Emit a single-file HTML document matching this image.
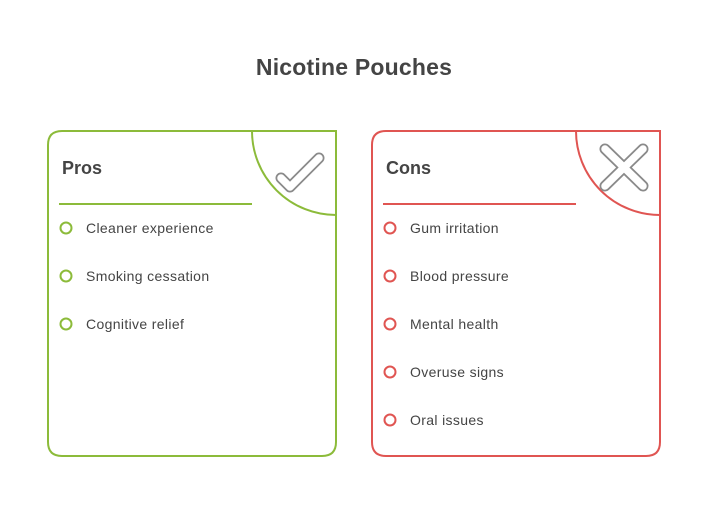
<!DOCTYPE html>
<html><head><meta charset="utf-8"><style>
body{margin:0;background:#fff;}
svg{display:block;font-family:"Liberation Sans",sans-serif;}
</style></head><body>
<svg width="708" height="528" viewBox="0 0 708 528">
<text x="354" y="75" text-anchor="middle" font-size="23" font-weight="bold" fill="#444" letter-spacing="0.2">Nicotine Pouches</text>
<!-- Pros -->
<path d="M62 131 H336 V442 Q336 456 322 456 H62 Q48 456 48 442 V145 Q48 131 62 131 Z" fill="none" stroke="#8cbb3a" stroke-width="2"/>
<path d="M252 131 A84 84 0 0 0 336 215" fill="none" stroke="#8cbb3a" stroke-width="2"/>
<polyline points="281,178 290,187 319,158" fill="none" stroke="#8a8a8a" stroke-width="11" stroke-linecap="round" stroke-linejoin="round"/>
<polyline points="281,178 290,187 319,158" fill="none" stroke="#fff" stroke-width="7.5" stroke-linecap="round" stroke-linejoin="round"/>
<text x="62" y="174" font-size="18" font-weight="bold" fill="#444">Pros</text>
<line x1="59" y1="204" x2="252" y2="204" stroke="#8cbb3a" stroke-width="2"/>
<g fill="none" stroke="#8cbb3a" stroke-width="2"><circle cx="66" cy="228" r="5.5"/><circle cx="66" cy="276" r="5.5"/><circle cx="66" cy="324" r="5.5"/></g>
<g font-size="14" fill="#444" letter-spacing="0.35"><text x="86" y="233">Cleaner experience</text><text x="86" y="281">Smoking cessation</text><text x="86" y="329">Cognitive relief</text></g>
<!-- Cons -->
<path d="M386 131 H660 V442 Q660 456 646 456 H386 Q372 456 372 442 V145 Q372 131 386 131 Z" fill="none" stroke="#e05552" stroke-width="2"/>
<path d="M576 131 A84 84 0 0 0 660 215" fill="none" stroke="#e05552" stroke-width="2"/>
<g stroke-linecap="round"><line x1="605" y1="149" x2="643" y2="186" stroke="#8a8a8a" stroke-width="11"/><line x1="643" y1="149" x2="605" y2="186" stroke="#8a8a8a" stroke-width="11"/><line x1="605" y1="149" x2="643" y2="186" stroke="#fff" stroke-width="7.5"/><line x1="643" y1="149" x2="605" y2="186" stroke="#fff" stroke-width="7.5"/></g>
<text x="386" y="174" font-size="18" font-weight="bold" fill="#444">Cons</text>
<line x1="383" y1="204" x2="576" y2="204" stroke="#e05552" stroke-width="2"/>
<g fill="none" stroke="#e05552" stroke-width="2"><circle cx="390" cy="228" r="5.5"/><circle cx="390" cy="276" r="5.5"/><circle cx="390" cy="324" r="5.5"/><circle cx="390" cy="372" r="5.5"/><circle cx="390" cy="420" r="5.5"/></g>
<g font-size="14" fill="#444" letter-spacing="0.35"><text x="410" y="233">Gum irritation</text><text x="410" y="281">Blood pressure</text><text x="410" y="329">Mental health</text><text x="410" y="377">Overuse signs</text><text x="410" y="425">Oral issues</text></g>
</svg>
</body></html>
